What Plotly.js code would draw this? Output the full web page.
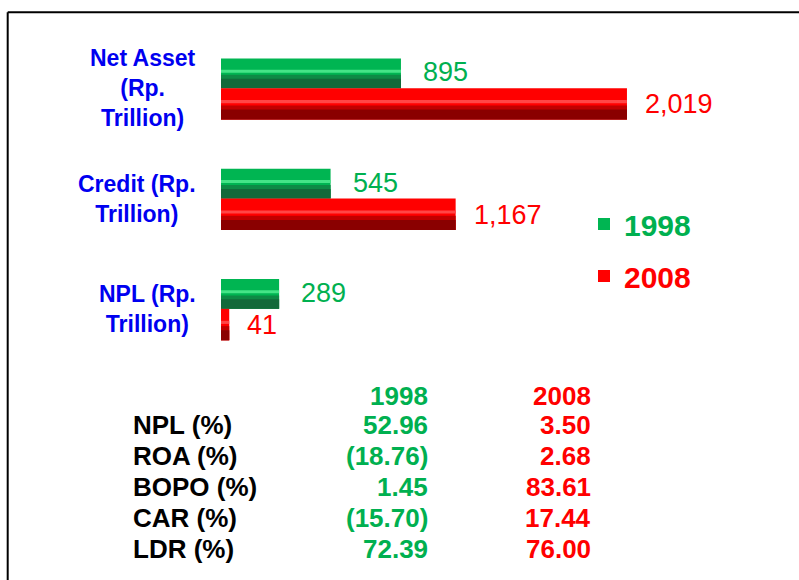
<!DOCTYPE html>
<html>
<head>
<meta charset="utf-8">
<script src="https://cdn.plot.ly/plotly-3.0.1.min.js"></script>
<style>html,body{margin:0;padding:0;background:#fff;}#chart{width:799px;height:580px;}</style>
</head>
<body>
<div id="chart"></div>
<script>
// ---- data ----
const categories = ['Net Asset<br>(Rp.<br>Trillion)', 'Credit (Rp.<br>Trillion)', 'NPL (Rp.<br>Trillion)'];
const seriesNames = ['1998', '2008'];
const values1998 = [895, 545, 289];
const values2008 = [2019, 1167, 41];
const tableRows = ['NPL (%)', 'ROA (%)', 'BOPO (%)', 'CAR (%)', 'LDR (%)'];
const table1998 = [52.96, -18.76, 1.45, -15.70, 72.39];
const table2008 = [3.50, 2.68, 83.61, 17.44, 76.00];

// ---- layout helpers ----
const L = 221, T = 33, W = 563, H = 331;
const px = p => (p - L) / W;
const py = p => (T + H - p) / H;
const FONT = 'Liberation Sans, Arial, sans-serif';
const GREEN = '#00B050', RED = '#FF0000';

const pal = {
  '1998': {base: '#00B552', mid: '#0E8A45', dark: '#13693A', light: '#45E487', text: GREEN},
  '2008': {base: '#FF0000', mid: '#C00000', dark: '#8A0000', light: '#FF4646', text: RED}
};

function layers(vals, name, off, w, legend) {
  const c = pal[name];
  const common = {type: 'bar', orientation: 'h', y: categories, x: vals, hoverinfo: 'skip'};
  return [
    Object.assign({}, common, {name: name, offset: off, width: w, marker: {color: c.base, line: {width: 0}}, showlegend: true, legend: legend}),
    Object.assign({}, common, {name: name, offset: off + 0.55 * w, width: 0.45 * w, marker: {color: c.mid, line: {width: 0}}, showlegend: false}),
    Object.assign({}, common, {name: name, offset: off + 0.68 * w, width: 0.32 * w, marker: {color: c.dark, line: {width: 0}}, showlegend: false}),
    Object.assign({}, common, {name: name, offset: off + 0.38 * w, width: 0.1 * w, marker: {color: c.light, line: {width: 0}}, showlegend: false})
  ];
}

const traces = [].concat(
  layers(values1998, seriesNames[0], -0.27, 0.27, 'legend'),
  layers(values2008, seriesNames[1], 0, 0.285, 'legend2')
);

const annotations = [];
// category labels
categories.forEach(c => annotations.push({
  xref: 'paper', yref: 'y', x: px(198), y: c, xanchor: 'right', yanchor: 'middle', align: 'center',
  text: c, showarrow: false, font: {family: FONT, size: 23, color: '#0000F0', weight: 'bold'}
}));
// value labels
const fmt = v => v.toLocaleString('en-US');
categories.forEach((c, i) => {
  annotations.push({xref: 'x', yref: 'y', x: values1998[i], y: c, xanchor: 'left', yanchor: 'middle', xshift: 20, yshift: 16,
    text: fmt(values1998[i]), showarrow: false, font: {family: FONT, size: 27, color: GREEN}});
  annotations.push({xref: 'x', yref: 'y', x: values2008[i], y: c, xanchor: 'left', yanchor: 'middle', xshift: 16, yshift: -16,
    text: fmt(values2008[i]), showarrow: false, font: {family: FONT, size: 27, color: RED}});
});
// table
const tfmt = v => v < 0 ? '(' + Math.abs(v).toFixed(2) + ')' : v.toFixed(2);
const tfont = col => ({family: FONT, size: 26, color: col, weight: 'bold'});
annotations.push({xref: 'paper', yref: 'paper', x: px(430), y: py(396), xanchor: 'right', yanchor: 'middle', text: seriesNames[0], showarrow: false, font: tfont(GREEN)});
annotations.push({xref: 'paper', yref: 'paper', x: px(593), y: py(396), xanchor: 'right', yanchor: 'middle', text: seriesNames[1], showarrow: false, font: tfont(RED)});
tableRows.forEach((r, i) => {
  const yy = py(425 + i * 31);
  annotations.push({xref: 'paper', yref: 'paper', x: px(131), y: yy, xanchor: 'left', yanchor: 'middle', text: r, showarrow: false, font: tfont('#000000')});
  annotations.push({xref: 'paper', yref: 'paper', x: px(430), y: yy, xanchor: 'right', yanchor: 'middle', text: tfmt(table1998[i]), showarrow: false, font: tfont(GREEN)});
  annotations.push({xref: 'paper', yref: 'paper', x: px(593), y: yy, xanchor: 'right', yanchor: 'middle', text: tfmt(table2008[i]), showarrow: false, font: tfont(RED)});
});

const layout = {
  width: 799, height: 580,
  margin: {l: L, r: 799 - L - W, t: T, b: 580 - T - H, pad: 0},
  paper_bgcolor: '#ffffff', plot_bgcolor: '#ffffff',
  barmode: 'overlay',
  xaxis: {range: [0, 2800], visible: false, fixedrange: true},
  yaxis: {categoryorder: 'array', categoryarray: categories, range: [2.5, -0.5], visible: false, fixedrange: true},
  legend: {x: px(584), y: py(198), xanchor: 'left', yanchor: 'top', bgcolor: 'rgba(0,0,0,0)', itemwidth: 30,
    font: {family: FONT, size: 30, color: GREEN, weight: 'bold'}},
  legend2: {x: px(584), y: py(250), xanchor: 'left', yanchor: 'top', bgcolor: 'rgba(0,0,0,0)', itemwidth: 30,
    font: {family: FONT, size: 30, color: RED, weight: 'bold'}},
  annotations: annotations,
  shapes: [
    {type: 'line', xref: 'paper', yref: 'paper', x0: px(7.7), x1: px(805), y0: py(12.3), y1: py(12.3), line: {color: '#000', width: 2}},
    {type: 'line', xref: 'paper', yref: 'paper', x0: px(7.7), x1: px(7.7), y0: py(12.3), y1: py(585), line: {color: '#000', width: 2}}
  ],
  hovermode: false
};

Plotly.newPlot('chart', traces, layout, {staticPlot: true, displayModeBar: false});
</script>
</body>
</html>
